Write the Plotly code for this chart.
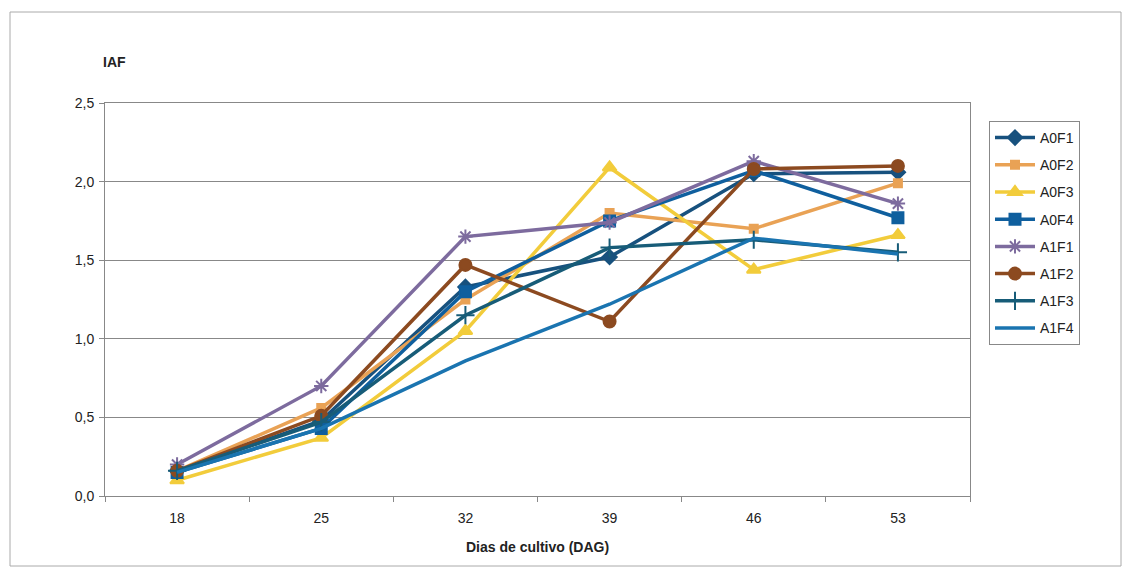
import plotly.graph_objects as go

days = ["18", "25", "32", "39", "46", "53"]

A0F1 = [0.16, 0.48, 1.33, 1.52, 2.05, 2.06]
A0F2 = [0.16, 0.56, 1.25, 1.80, 1.70, 1.99]
A0F3 = [0.10, 0.37, 1.05, 2.09, 1.44, 1.66]
A0F4 = [0.15, 0.43, 1.30, 1.75, 2.07, 1.77]
A1F1 = [0.20, 0.70, 1.65, 1.74, 2.13, 1.86]
A1F2 = [0.16, 0.51, 1.47, 1.11, 2.08, 2.10]
A1F3 = [0.16, 0.47, 1.15, 1.58, 1.63, 1.55]
A1F4 = [0.15, 0.43, 0.86, 1.22, 1.64, 1.54]

series = [
    ("A0F1", A0F1, "#17517e", "diamond", 11),
    ("A0F2", A0F2, "#e9a255", "square", 8),
    ("A0F3", A0F3, "#f2cc3b", "triangle-up", 12),
    ("A0F4", A0F4, "#0f5f9e", "square", 11),
    ("A1F1", A1F1, "#7d6b9e", "asterisk-open", 12),
    ("A1F2", A1F2, "#8c4a20", "circle", 12),
    ("A1F3", A1F3, "#175c78", "cross-thin-open", 13),
    ("A1F4", A1F4, "#1a74b0", None, 0),
]

fig = go.Figure()
for name, vals, color, sym, size in series:
    if sym is None:
        fig.add_trace(go.Scatter(x=days, y=vals, name=name, mode="lines",
                                 legendgroup=name,
                                 line=dict(color=color, width=3.5)))
    else:
        fig.add_trace(go.Scatter(x=days, y=vals, name=name, mode="lines+markers",
                                 legendgroup=name,
                                 line=dict(color=color, width=3.5),
                                 marker=dict(symbol=sym, size=size, color=color,
                                             line=dict(color=color, width=2))))

OFF = 8  # page body margin
W, H = 1131 - 2 * OFF, 578 - 2 * OFF
L, R, T, B = 105 - OFF, 970 - OFF, 103 - OFF, 496 - OFF

def px(xp):
    return (xp - OFF - L) / (R - L)

def py(yp):
    return (B - (yp - OFF)) / (B - T)

fig.update_layout(
    width=W, height=H,
    margin=dict(l=L, r=W - R, t=T, b=H - B),
    paper_bgcolor="white", plot_bgcolor="white",
    separators=",.",
    font=dict(family="Liberation Sans, Arial, sans-serif", size=14, color="#222222"),
    showlegend=True,
    legend=dict(x=px(989), y=py(121), xanchor="left", yanchor="top",
                bordercolor="#888888", borderwidth=1, bgcolor="white",
                font=dict(size=14, color="#222222"), tracegroupgap=6,
                itemwidth=40, traceorder="grouped"),
    xaxis=dict(type="category", range=[-0.5, 5.5], showgrid=False,
               showline=True, linecolor="#888888", linewidth=1, mirror=True,
               ticks="outside", tickson="boundaries", ticklen=5, tickcolor="#888888",
               tickfont=dict(size=14), zeroline=False, ticklabelstandoff=9),
    yaxis=dict(range=[0, 2.5], dtick=0.5, tickformat=".1f",
               showgrid=True, gridcolor="#888888", gridwidth=1,
               showline=True, linecolor="#888888", linewidth=1, mirror=True,
               ticks="outside", ticklen=5, tickcolor="#888888",
               tickfont=dict(size=14), zeroline=False, ticklabelstandoff=2),
    annotations=[
        dict(text="<b>IAF</b>", x=px(114), y=py(62), xref="paper", yref="paper",
             showarrow=False, xanchor="center", yanchor="middle",
             font=dict(size=14, color="#222222")),
        dict(text="<b>Dias de cultivo (DAG)</b>", x=px(537), y=py(547),
             xref="paper", yref="paper", showarrow=False,
             xanchor="center", yanchor="middle", font=dict(size=14, color="#222222")),
    ],
    shapes=[
        dict(type="rect", xref="paper", yref="paper",
             x0=px(10), x1=px(1121), y0=py(566), y1=py(12),
             line=dict(color="#aaaaaa", width=1), layer="below"),
    ],
)

fig.write_html("out.html")
